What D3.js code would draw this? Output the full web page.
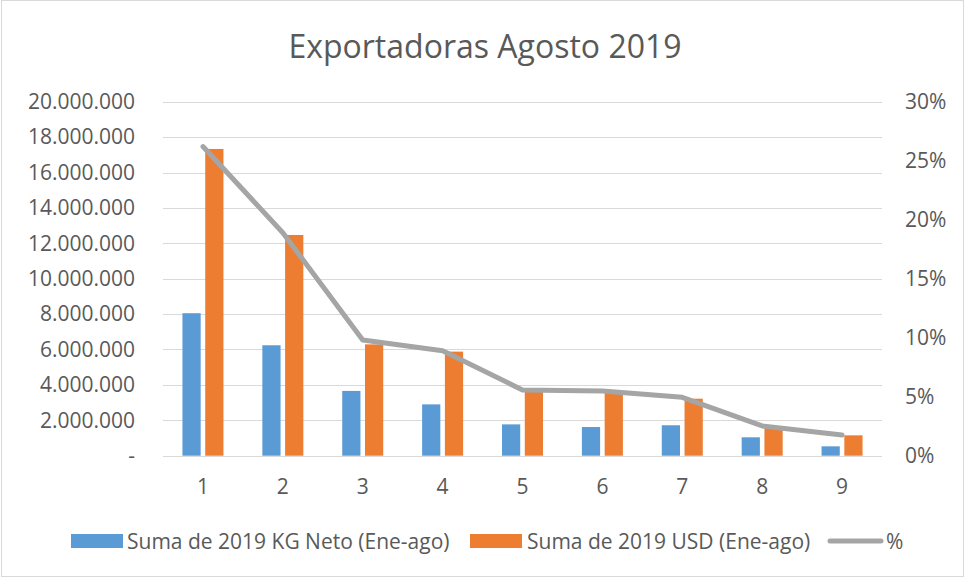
<!DOCTYPE html>
<html>
<head>
  <meta charset="utf-8">
  <title>Exportadoras Agosto 2019</title>
  <script src="https://d3js.org/d3.v7.min.js"></script>
  <style>
    body { margin: 0; background: #fff; }
    text { font-family: "Open Sans", sans-serif; fill: #595959; }
  </style>
</head>
<body>
<div id="container"></div>
<script>
// data
const categories = ["1", "2", "3", "4", "5", "6", "7", "8", "9"];
const kgNeto = [8050000, 6240000, 3660000, 2900000, 1770000, 1620000, 1720000, 1040000, 530000];
const usd = [17330000, 12470000, 6290000, 5880000, 3620000, 3560000, 3220000, 1560000, 1150000];
const pct = [0.262, 0.189, 0.098, 0.089, 0.0557, 0.0549, 0.0495, 0.0252, 0.0176];
const leftTicks = [0, 2e6, 4e6, 6e6, 8e6, 10e6, 12e6, 14e6, 16e6, 18e6, 20e6];
const rightTicks = [0, 0.05, 0.10, 0.15, 0.20, 0.25, 0.30];
const seriesNames = ["Suma de 2019 KG Neto (Ene-ago)", "Suma de 2019 USD (Ene-ago)", "%"];

const width = 965, height = 578;
const margin = {top: 101.7, right: 83, bottom: 122.3, left: 163};
const blue = "#5B9BD5", orange = "#ED7D31", grey = "#A5A5A5", grid = "#D9D9D9";

const svg = d3.select("#container").append("svg")
  .attr("width", width)
  .attr("height", height);

// outer chart border
svg.append("rect")
  .attr("x", 1.5).attr("y", 0.5)
  .attr("width", width - 3).attr("height", height - 2)
  .attr("fill", "none")
  .attr("stroke", grid);

const x = d3.scaleBand()
  .domain(categories)
  .range([margin.left, width - margin.right]);
const bw = x.bandwidth();
const xSub = d3.scaleBand()
  .domain(["kg", "usd"])
  .range([bw / 2 - 20.5, bw / 2 + 20.5])
  .paddingInner(0.2);

const y = d3.scaleLinear()
  .domain([0, 20e6])
  .range([height - margin.bottom, margin.top]);
const y2 = d3.scaleLinear()
  .domain([0, 0.30])
  .range([height - margin.bottom, margin.top]);

// title
svg.append("text")
  .attr("x", 485).attr("y", 58)
  .attr("text-anchor", "middle")
  .style("font-size", "32px")
  .text("Exportadoras Agosto 2019");

// gridlines
svg.append("g")
  .selectAll("line")
  .data(leftTicks)
  .enter().append("line")
  .attr("x1", margin.left).attr("x2", width - margin.right)
  .attr("y1", d => Math.round(y(d)) + 0.5).attr("y2", d => Math.round(y(d)) + 0.5)
  .attr("stroke", grid)
  .attr("stroke-width", 1.2);

// left axis
const fmtLeft = d => d === 0 ? "-" : d3.format(",")(d).replace(/,/g, ".");
const leftAxis = svg.append("g")
  .attr("transform", "translate(135,0)")
  .call(d3.axisLeft(y).tickValues(leftTicks).tickFormat(fmtLeft).tickSize(0).tickPadding(0));
leftAxis.select(".domain").remove();
leftAxis.selectAll("text").style("font-size", "21px").style("fill", "#595959").attr("font-family", null);

// right axis
const rightAxis = svg.append("g")
  .attr("transform", "translate(905,0)")
  .call(d3.axisRight(y2).tickValues(rightTicks).tickFormat(d3.format(".0%")).tickSize(0).tickPadding(0));
rightAxis.select(".domain").remove();
rightAxis.selectAll("text").style("font-size", "21px").style("fill", "#595959").attr("font-family", null);

// bottom axis
const bottomAxis = svg.append("g")
  .attr("transform", "translate(0," + (height - margin.bottom) + ")")
  .call(d3.axisBottom(x).tickSize(0).tickPadding(23));
bottomAxis.select(".domain").remove();
bottomAxis.selectAll("text").style("font-size", "21px").style("fill", "#595959").attr("font-family", null);

// bars
const groups = svg.append("g")
  .selectAll("g")
  .data(categories)
  .enter().append("g")
  .attr("transform", d => "translate(" + x(d) + ",0)");

groups.append("rect")
  .attr("x", xSub("kg"))
  .attr("width", xSub.bandwidth())
  .attr("y", (d, i) => y(kgNeto[i]))
  .attr("height", (d, i) => y(0) - y(kgNeto[i]))
  .attr("fill", blue);

groups.append("rect")
  .attr("x", xSub("usd"))
  .attr("width", xSub.bandwidth())
  .attr("y", (d, i) => y(usd[i]))
  .attr("height", (d, i) => y(0) - y(usd[i]))
  .attr("fill", orange);

// percentage line
const line = d3.line()
  .x((d, i) => x(categories[i]) + bw / 2)
  .y(d => y2(d));

svg.append("path")
  .datum(pct)
  .attr("d", line)
  .attr("fill", "none")
  .attr("stroke", grey)
  .attr("stroke-width", 5)
  .attr("stroke-linejoin", "round")
  .attr("stroke-linecap", "round");

// legend
const legend = svg.append("g").style("font-size", "21px");
const legY = 541;

legend.append("rect")
  .attr("x", 71).attr("y", legY - 7).attr("width", 52).attr("height", 14)
  .attr("fill", blue);
legend.append("text")
  .attr("x", 127).attr("y", legY + 7.5)
  .text(seriesNames[0]);

legend.append("rect")
  .attr("x", 470).attr("y", legY - 7).attr("width", 52).attr("height", 14)
  .attr("fill", orange);
legend.append("text")
  .attr("x", 527).attr("y", legY + 7.5)
  .text(seriesNames[1]);

legend.append("line")
  .attr("x1", 830).attr("x2", 881)
  .attr("y1", legY).attr("y2", legY)
  .attr("stroke", grey)
  .attr("stroke-width", 5)
  .attr("stroke-linecap", "round");
legend.append("text")
  .attr("x", 886).attr("y", legY + 7.5)
  .text(seriesNames[2]);
</script>
</body>
</html>
